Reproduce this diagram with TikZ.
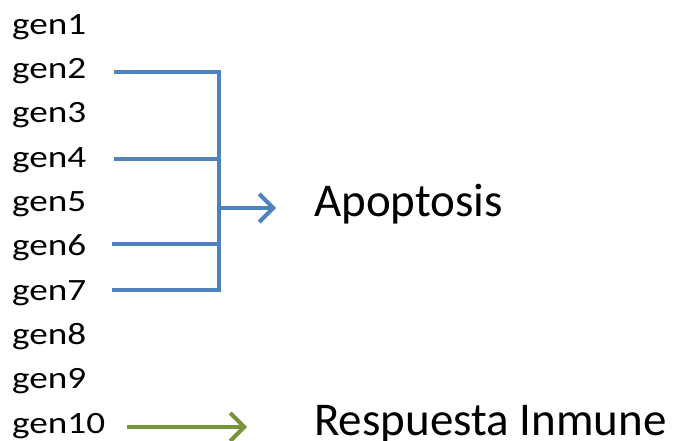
\documentclass[tikz,border=0pt]{standalone}
\usepackage{fontspec}
\setmainfont{Carlito}
\newfontfamily\genfont[FakeStretch=1.2]{Carlito}
\usetikzlibrary{arrows.meta}
\definecolor{officeblue}{HTML}{4F81BD}
\definecolor{officegreen}{HTML}{77933C}
\tikzset{
  genlabel/.style={inner sep=0pt, anchor=base west, font=\genfont\fontsize{31}{36}\selectfont},
  biglabel/.style={inner sep=0pt, anchor=base west, font=\fontsize{47}{52}\selectfont},
  bluelink/.style={draw=officeblue, line width=4pt},
  greenlink/.style={draw=officegreen, line width=4pt},
  barb/.style={-{Straight Barb[length=14pt,width=28pt]}},
}
\begin{document}
\begin{tikzpicture}[x=1pt,y=-1pt]
\useasboundingbox (0,0) rectangle (675,441);
\foreach \i in {1,...,10}{
  \node[genlabel] (gen\i) at (12,{34.3+44.33*(\i-1)}) {gen\i};
}
\node[biglabel] (apo) at (314,216.5) {Apoptosis};
\node[biglabel] (resp) at (314,435) {Respuesta Inmune};
% start points of the gene lines
\coordinate (s2) at (114,72);
\coordinate (s4) at (114,159);
\coordinate (s6) at (112,244);
\coordinate (s7) at (112,290);
% bracket points
\coordinate (b2) at (219,72);
\coordinate (b4) at (219,159);
\coordinate (b6) at (219,244);
\coordinate (b7) at (219,290);
\coordinate (bm) at (219,208);
\coordinate (at) at (276,208);
\coordinate (gs) at (127,427);
\coordinate (gt) at (247,427);
\draw[bluelink] (s2) -- (b2) -- (b7) -- (s7);
\draw[bluelink] (s4) -- (b4);
\draw[bluelink] (s6) -- (b6);
\draw[bluelink, barb] (bm) -- (at);
\draw[greenlink, barb] (gs) -- (gt);
\end{tikzpicture}
\end{document}
